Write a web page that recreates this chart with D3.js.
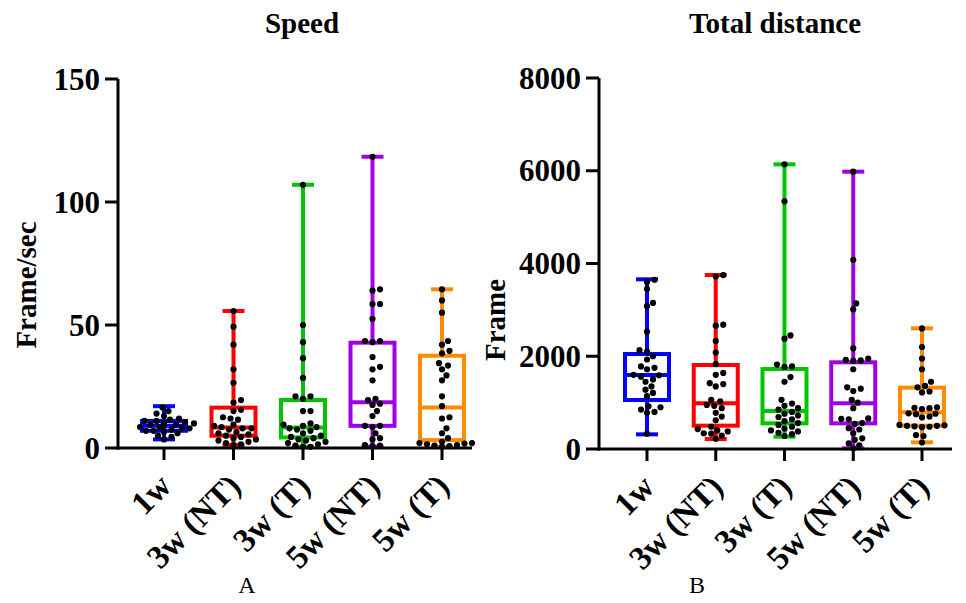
<!DOCTYPE html>
<html lang="en">
  <head>
    <meta charset="UTF-8" />
    <title>Speed and Total distance</title>
    <script src="https://d3js.org/d3.v7.min.js"></script>
    <style>
      html,
      body {
        margin: 0;
        padding: 0;
        background-color: #fff;
      }
      svg text {
        font-family: "Liberation Serif", "Times New Roman", serif;
      }
    </style>
  </head>
  <body>
    <svg id="chart" width="966" height="603"></svg>
    <script>
      // groups along the x axis
      const groups = ["1w", "3w (NT)", "3w (T)", "5w (NT)", "5w (T)"];
      const colors = ["#0000ff", "#ff0000", "#00c400", "#a000e6", "#ff8c00"];

      // Speed (Frame/sec): box stats [min, q1, median, q3, max]
      const speedBoxes = [
        [3.5, 7, 9, 11, 17],
        [1.2, 5, 8.3, 16.4, 55.7],
        [0.5, 4.3, 8.3, 19.5, 107],
        [0.5, 9, 18.6, 42.8, 118.4],
        [0.5, 3.2, 16.5, 37.5, 64.5]
      ];
      const speedPoints = [
        [3.5, 4.5, 5, 6, 6.5, 7, 7, 7.5, 8, 8, 8.5, 8.5, 9, 9, 9, 9.5, 9.5, 10, 10, 10, 10.5, 11, 11, 11.5, 12, 13, 14, 15, 16.5],
        [55.7, 49.3, 42, 32, 26.5, 19.5, 18.5, 15.5, 15, 12.5, 12, 11.5, 9.5, 9, 8.5, 8, 8, 7.5, 6.5, 6, 5.5, 5, 4.5, 4, 3.5, 3, 2.5, 2, 1.5, 1.2],
        [107, 50, 43, 36.5, 28.5, 21, 21, 20, 15, 15, 10, 9.5, 9, 8.5, 8, 7.5, 7, 6, 5, 4.5, 4, 3.5, 3, 2.5, 2, 1.5, 1, 0.5, 0.5],
        [118.4, 64.5, 64, 58.5, 58.5, 52.5, 43.5, 43.5, 43, 37, 33, 32, 27.5, 20, 19.5, 18, 17.5, 15, 13, 9, 9, 8.5, 6, 4, 3.5, 1.2, 1, 0.8],
        [64.5, 60, 55, 43.5, 42, 39.5, 38.5, 34.5, 33.5, 32, 29.5, 27.5, 21, 17, 12.5, 12, 8, 6, 4, 2.5, 2, 2, 1.8, 1.5, 1.2, 1, 0.8, 0.5]
      ];
      const speedTicks = [0, 50, 100, 150];

      // Total distance (Frame)
      const distBoxes = [
        [316, 1056, 1595, 2048, 3659],
        [216, 503, 985, 1811, 3752],
        [266, 553, 819, 1725, 6138],
        [15, 553, 985, 1869, 5980],
        [144, 503, 791, 1323, 2602]
      ];
      const distPoints = [
        [3650, 3600, 3450, 3150, 3080, 2530, 2130, 2100, 2000, 1930, 1780, 1750, 1720, 1600, 1590, 1560, 1500, 1450, 1350, 1280, 1210, 1140, 920, 900, 850, 800, 780, 330],
        [3750, 3720, 2680, 2660, 2330, 2080, 1830, 1640, 1600, 1420, 1400, 1350, 1060, 1030, 950, 930, 880, 780, 700, 620, 480, 430, 400, 380, 340, 330, 290, 220],
        [6138, 5340, 2450, 2380, 1820, 1780, 1770, 1550, 1450, 1060, 980, 930, 880, 850, 800, 760, 720, 690, 640, 600, 560, 520, 480, 440, 400, 380, 350, 320, 280],
        [5980, 4080, 3140, 3010, 2170, 1950, 1920, 1910, 1900, 1720, 1330, 1300, 1250, 1060, 1000, 880, 660, 650, 640, 560, 540, 450, 420, 340, 230, 200, 120, 80, 15],
        [2600, 2200, 1950, 1720, 1450, 1360, 1330, 1240, 1220, 900, 890, 880, 860, 770, 760, 750, 700, 680, 520, 510, 500, 500, 490, 480, 470, 300, 280, 140]
      ];
      const distTicks = [0, 2000, 4000, 6000, 8000];

      const svg = d3.select("#chart");

      function drawPanel(opt) {
        const g = svg.append("g");
        const y = d3.scaleLinear().domain(opt.domain).range([opt.bottom, opt.top]);
        const x = d3.scalePoint().domain(groups).range(opt.xRange);

        // whiskers, boxes, medians
        const boxW = 44, capW = 22, r = 3.1;
        opt.boxes.forEach((b, i) => {
          const cx = x(groups[i]);
          const c = colors[i];
          const [mn, q1, md, q3, mx] = b;
          g.append("line").attr("x1", cx).attr("x2", cx).attr("y1", y(mx)).attr("y2", y(mn))
            .attr("stroke", c).attr("stroke-width", 4);
          [mn, mx].forEach((v) => {
            g.append("line").attr("x1", cx - capW / 2).attr("x2", cx + capW / 2)
              .attr("y1", y(v)).attr("y2", y(v)).attr("stroke", c).attr("stroke-width", 4);
          });
          g.append("rect").attr("x", cx - boxW / 2).attr("y", y(q3))
            .attr("width", boxW).attr("height", y(q1) - y(q3))
            .attr("fill", "#fff").attr("stroke", c).attr("stroke-width", 4);
          g.append("line").attr("x1", cx - boxW / 2).attr("x2", cx + boxW / 2)
            .attr("y1", y(md)).attr("y2", y(md)).attr("stroke", c).attr("stroke-width", 4);

          // simple beeswarm so dots do not overlap
          const placed = [];
          opt.points[i].slice().sort((a, b) => a - b).forEach((v) => {
            const py = y(v);
            let dx = 0;
            for (let k = 0; k < 40; k++) {
              const cand = k === 0 ? 0 : (k % 2 ? 1 : -1) * Math.ceil(k / 2) * 1.5;
              const ok = placed.every((p) => Math.hypot(p[0] - cand, p[1] - py) >= 2 * r + 0.3);
              if (ok) { dx = cand; break; }
            }
            placed.push([dx, py]);
            g.append("circle").attr("cx", cx + dx).attr("cy", py).attr("r", r).attr("fill", "#000");
          });
        });

        // axes
        g.append("line").attr("x1", opt.axisX).attr("x2", opt.axisX)
          .attr("y1", opt.top).attr("y2", opt.bottom + 1.5)
          .attr("stroke", "#000").attr("stroke-width", 3);
        g.append("line").attr("x1", opt.axisX - 1.5).attr("x2", opt.axisEnd)
          .attr("y1", opt.bottom).attr("y2", opt.bottom)
          .attr("stroke", "#000").attr("stroke-width", 3);

        opt.ticks.forEach((t) => {
          g.append("line").attr("x1", opt.axisX - 13).attr("x2", opt.axisX)
            .attr("y1", y(t)).attr("y2", y(t)).attr("stroke", "#000").attr("stroke-width", 3);
          g.append("text").attr("x", opt.axisX - 18).attr("y", y(t) + 10.5)
            .attr("text-anchor", "end").attr("font-size", 31).attr("font-weight", "bold")
            .text(t);
        });

        groups.forEach((gname) => {
          const cx = x(gname);
          g.append("line").attr("x1", cx).attr("x2", cx)
            .attr("y1", opt.bottom).attr("y2", opt.bottom + 12)
            .attr("stroke", "#000").attr("stroke-width", 3);
          g.append("text")
            .attr("transform", `translate(${cx + 9},${opt.bottom + 40}) rotate(-45)`)
            .attr("text-anchor", "end").attr("font-size", 33).attr("font-weight", "bold")
            .text(gname);
        });

        g.append("text").attr("x", opt.titleX).attr("y", 33)
          .attr("text-anchor", "middle").attr("font-size", 29).attr("font-weight", "bold")
          .text(opt.title);

        g.append("text")
          .attr("transform", `translate(${opt.labelX},${opt.labelY}) rotate(-90)`)
          .attr("text-anchor", "middle").attr("font-size", 29).attr("font-weight", "bold")
          .text(opt.yLabel);

        g.append("text").attr("x", opt.letterX).attr("y", 593)
          .attr("text-anchor", "middle").attr("font-size", 24)
          .text(opt.letter);
      }

      drawPanel({
        domain: [0, 150], top: 79, bottom: 448, xRange: [164, 442],
        axisX: 118, axisEnd: 472, ticks: speedTicks,
        boxes: speedBoxes, points: speedPoints,
        title: "Speed", titleX: 302, yLabel: "Frame/sec", labelX: 36, labelY: 285,
        letter: "A", letterX: 247
      });

      drawPanel({
        domain: [0, 8000], top: 78, bottom: 449, xRange: [647, 922],
        axisX: 599, axisEnd: 952, ticks: distTicks,
        boxes: distBoxes, points: distPoints,
        title: "Total distance", titleX: 775, yLabel: "Frame", labelX: 505, labelY: 320,
        letter: "B", letterX: 697
      });
    </script>
  </body>
</html>
